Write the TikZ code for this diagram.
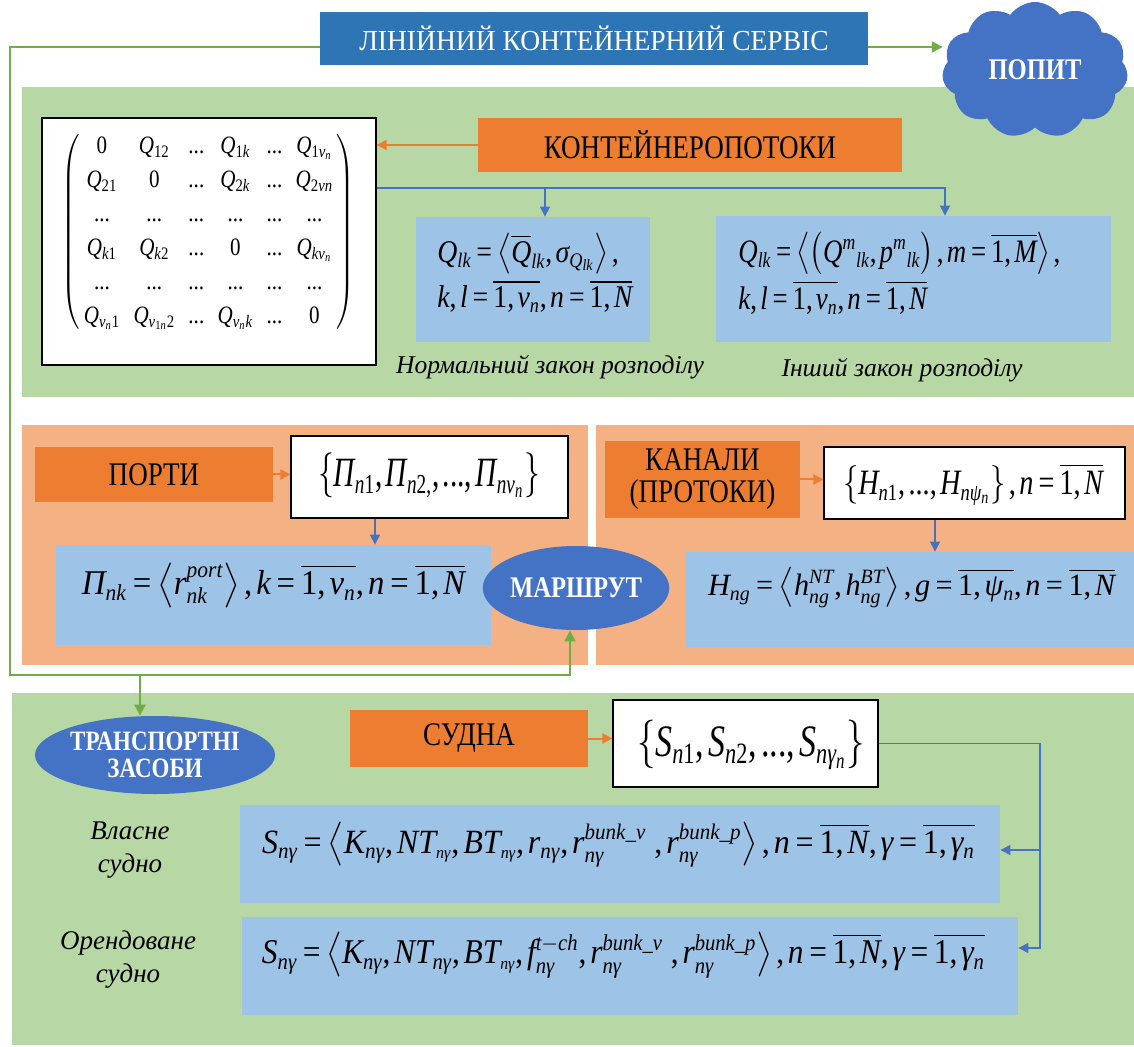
\documentclass[tikz,border=0pt]{standalone}
\usepackage{amsmath}
\usepackage{graphicx}
\usepackage[no-math]{fontspec}
\setmainfont{Liberation Serif}
\newfontfamily\condfont[FakeStretch=0.82]{Liberation Serif}
\newfontfamily\titlefont[FakeStretch=0.95]{Liberation Serif}
\newfontfamily\mathlibfont[NFSSFamily=libser]{Liberation Serif}
\DeclareSymbolFont{letters}{TU}{libser}{m}{it}
\DeclareSymbolFont{operators}{TU}{libser}{m}{n}
\DeclareMathSizes{16}{16}{10.5}{8}
\mathcode`\,="602C
\mathcode`\.="002E
\Umathchardef\sigma="0 \symletters "3C3
\Umathchardef\gamma="0 \symletters "3B3
\Umathchardef\psi="0 \symletters "3C8
\Umathchardef\itPi="0 \symletters "3A0
\newcommand{\tdots}{\text{...}}
\usetikzlibrary{shapes.geometric,shapes.symbols,arrows.meta,calc}
\definecolor{pgreen}{RGB}{183,215,164}
\definecolor{porange}{RGB}{244,177,131}
\definecolor{lblue}{RGB}{157,195,230}
\definecolor{dblue}{RGB}{46,117,182}
\definecolor{mblue}{RGB}{68,114,196}
\definecolor{orng}{RGB}{237,125,49}
\definecolor{lgreen}{RGB}{112,173,71}
\tikzset{
 lab/.style={fill=orng, inner sep=0pt, font=\condfont\fontsize{16.5}{16}\selectfont, align=center, text=black},
 wbox/.style={fill=white, draw=black, line width=0.6pt, inner sep=0pt},
 fbox/.style={fill=lblue, inner sep=0pt},
 oval/.style={ellipse, fill=mblue, text=white, font=\condfont\bfseries\fontsize{15}{13.5}\selectfont, align=center, inner sep=0pt},
 frm/.style={inner sep=0pt, font={\fontsize{16}{21}\selectfont\thinmuskip=2mu\medmuskip=2.5mu\thickmuskip=3mu}},
 capt/.style={inner sep=0pt, font=\itshape\fontsize{12.8}{16.5}\selectfont, align=center},
 garrow/.style={draw=lgreen, line width=1.1pt, -{Triangle[length=5.5pt,width=5.5pt]}},
 barrow/.style={draw=mblue, line width=0.6pt, -{Triangle[length=5pt,width=5pt]}},
 oarrow/.style={draw=orng, line width=1pt, -{Triangle[length=5pt,width=5pt]}},
}
\begin{document}
\begin{tikzpicture}[x=0.5pt,y=-0.5pt]
\useasboundingbox (0,0) rectangle (1134,1047);
% panels
\fill[pgreen] (22,87) rectangle (1134,397);
\fill[porange] (22,425) rectangle (588,665);
\fill[porange] (596,425) rectangle (1134,665);
\fill[pgreen] (12,693) rectangle (1134,1045);

% title and cloud
\node[fill=dblue, text=white, inner sep=0pt, minimum width=274pt, minimum height=26.5pt, font=\titlefont\fontsize{14.5}{17}\selectfont] (title) at (594,38.5) {ЛІНІЙНИЙ КОНТЕЙНЕРНИЙ СЕРВІС};
\node[cloud, cloud puffs=11, cloud puff arc=110, aspect=1.3, fill=mblue, minimum width=93pt, minimum height=68pt, inner sep=0pt, text=white, font=\condfont\bfseries\fontsize{15}{17}\selectfont] (popit) at (1035,70) {ПОПИТ};

% top section
\node[wbox, minimum width=167pt, minimum height=123.5pt] (mbox) at (209,241.5) {};
\node[inner sep=0pt, font=\fontsize{11}{13}\selectfont] (mat) at (208.5,232) {\resizebox*{146.5pt}{102pt}{$\arraycolsep=3.5pt\def\arraystretch{1.15}\left(\begin{array}{@{\,}cccccc@{\,}}
0 & Q_{12} & \tdots & Q_{1k} & \tdots & Q_{1v_n}\\
Q_{21} & 0 & \tdots & Q_{2k} & \tdots & Q_{2vn}\\
\tdots & \tdots & \tdots & \tdots & \tdots & \tdots\\
Q_{k1} & Q_{k2} & \tdots & 0 & \tdots & Q_{kv_n}\\
\tdots & \tdots & \tdots & \tdots & \tdots & \tdots\\
Q_{v_n1} & Q_{v_{1n}2} & \tdots & Q_{v_nk} & \tdots & 0
\end{array}\right)$}};
\node[lab, minimum width=212pt, minimum height=27pt] (kp) at (690,145) {КОНТЕЙНЕРОПОТОКИ};
\node[fbox, minimum width=117pt, minimum height=62.5pt] (q1) at (533,279.5) {};
\node[fbox, minimum width=197.5pt, minimum height=63pt] (q2) at (913.5,279) {};
\node[frm, anchor=west] (f1) at (437,276.5) {\resizebox*{97.5pt}{43.5pt}{\begin{tabular}{@{}l@{}}$Q_{lk}=\left\langle \overline{Q}_{lk},\sigma_{Q_{lk}}\right\rangle,$\\[2pt] $k,l=\overline{1,v_n},n=\overline{1,N}$\end{tabular}}};
\node[frm, anchor=west] (f2) at (738,277) {\resizebox*{161pt}{45pt}{\begin{tabular}{@{}l@{}}$Q_{lk}=\left\langle\left(Q^{m}{}_{lk},p^{m}{}_{lk}\right),m=\overline{1,M}\right\rangle,$\\[2pt] $k,l=\overline{1,v_n},n=\overline{1,N}$\end{tabular}}};
\node[capt] (c1) at (550,367) {Нормальний закон розподілу};
\node[capt] (c2) at (902,370) {Інший закон розподілу};

\draw[oarrow] (kp.west) -- (kp.west -| mbox.east);
\coordinate (bs) at ([yshift=26.75pt]mbox.east);
\coordinate (bm) at (545,188);
\coordinate (be) at (945,188);
\draw[barrow] (bs) -- (be) -- (be |- q2.north);
\draw[barrow] (bm) -- (bm |- q1.north);

% middle section
\node[lab, minimum width=119pt, minimum height=27.5pt] (ports) at (154,474.5) {ПОРТИ};
\node[wbox, minimum width=138.5pt, minimum height=41pt] (pset) at (429.5,477) {};
\node[frm] (fpset) at (429,475.5) {\resizebox*{111pt}{22.5pt}{$\left\{\itPi_{n1},\itPi_{n2,},\tdots,\itPi_{nv_n}\right\}$}};
\node[fbox, minimum width=217.5pt, minimum height=50pt] (pnk) at (273.5,595) {};
\node[frm] (fpnk) at (273.5,585.5) {\resizebox*{191.5pt}{22.5pt}{$\itPi_{nk}=\left\langle r^{port}_{nk}\right\rangle,k=\overline{1,v_n},n=\overline{1,N}$}};
\node[lab, minimum width=97.5pt, minimum height=38.5pt] (kan) at (702.5,479.5) {КАНАЛИ\\(ПРОТОКИ)};
\node[wbox, minimum width=150.5pt, minimum height=36pt] (hset) at (974.5,483) {};
\node[frm] (fhset) at (973,484) {\resizebox*{130pt}{21pt}{$\left\{H_{n1},\tdots,H_{n\psi_n}\right\},n=\overline{1,N}$}};
\node[fbox, minimum width=224pt, minimum height=47.5pt] (hng) at (910,599.5) {};
\node[frm] (fhng) at (911.5,587.5) {\resizebox*{203.5pt}{20.5pt}{$H_{ng}=\left\langle h^{NT}_{ng},h^{BT}_{ng}\right\rangle,g=\overline{1,\psi_n},n=\overline{1,N}$}};
\node[oval, minimum width=86pt, minimum height=42pt] (mar) at (576,588) {МАРШРУТ};

\draw[oarrow] (ports.east) -- (ports.east -| pset.west);
\draw[oarrow] (kan.east) -- (kan.east -| hset.west);
\draw[barrow] ([xshift=-27.25pt]pset.south) -- ([xshift=-27.25pt]pset.south |- pnk.north);
\draw[barrow] ([xshift=-19.75pt]hset.south) -- ([xshift=-19.75pt]hset.south |- hng.north);

% bottom section
\node[oval, minimum width=120pt, minimum height=39pt, font=\condfont\bfseries\fontsize{14}{13.5}\selectfont] (tr) at (155,755) {ТРАНСПОРТНІ\\ЗАСОБИ};
\node[lab, minimum width=119pt, minimum height=28.5pt] (sudna) at (469,738.5) {СУДНА};
\node[wbox, minimum width=132.5pt, minimum height=43.5pt] (sset) at (745.5,743.5) {};
\node[frm] (fsset) at (751,745) {\resizebox*{114pt}{25pt}{$\left\{S_{n1},S_{n2},\tdots,S_{n\gamma_n}\right\}$}};
\node[fbox, minimum width=380pt, minimum height=49pt] (s1) at (620,854) {};
\node[frm] (fs1) at (618.5,844.5) {\resizebox*{356.5pt}{22.5pt}{$S_{n\gamma}=\left\langle K_{n\gamma},NT_{\scriptscriptstyle n\gamma},BT_{\scriptscriptstyle n\gamma},r_{n\gamma},r^{bunk\_v}_{n\gamma}\ ,r^{bunk\_p}_{n\gamma}\right\rangle,n=\overline{1,N},\gamma=\overline{1,\gamma_n}$}};
\node[fbox, minimum width=388pt, minimum height=49pt] (s2) at (630,966) {};
\node[frm] (fs2) at (623.5,955) {\resizebox*{361.5pt}{23pt}{$S_{n\gamma}=\left\langle K_{n\gamma},NT_{n\gamma},BT_{\scriptscriptstyle n\gamma},f^{t-ch}_{n\gamma},r^{bunk\_v}_{n\gamma}\ ,r^{bunk\_p}_{n\gamma}\right\rangle,n=\overline{1,N},\gamma=\overline{1,\gamma_n}$}};
\node[capt, font=\itshape\fontsize{13.5}{16.5}\selectfont] (l1) at (130,850) {Власне\\судно};
\node[capt, font=\itshape\fontsize{13.5}{16.5}\selectfont] (l2) at (128,960) {Орендоване\\судно};

\draw[oarrow] (sudna.east) -- (sudna.east -| sset.west);
\coordinate (c1) at (1040,850);
\coordinate (c2) at (1040,948);
\draw[barrow] (sset.east) -| (c2) -- (c2 -| s2.east);
\draw[barrow] (c1) -- (c1 -| s1.east);

% green connectors
\coordinate (gl) at (10,675);
\coordinate (gb) at (140,675);
\draw[garrow] ([yshift=-4.25pt]title.east) -- ([yshift=-4.25pt]title.east -| popit.west);
\draw[garrow] ([yshift=-4.25pt]title.west) -| (gl) -| ([xshift=-3pt]mar.south);
\draw[garrow] (gb) -- (gb |- tr.north);
\end{tikzpicture}
\end{document}
